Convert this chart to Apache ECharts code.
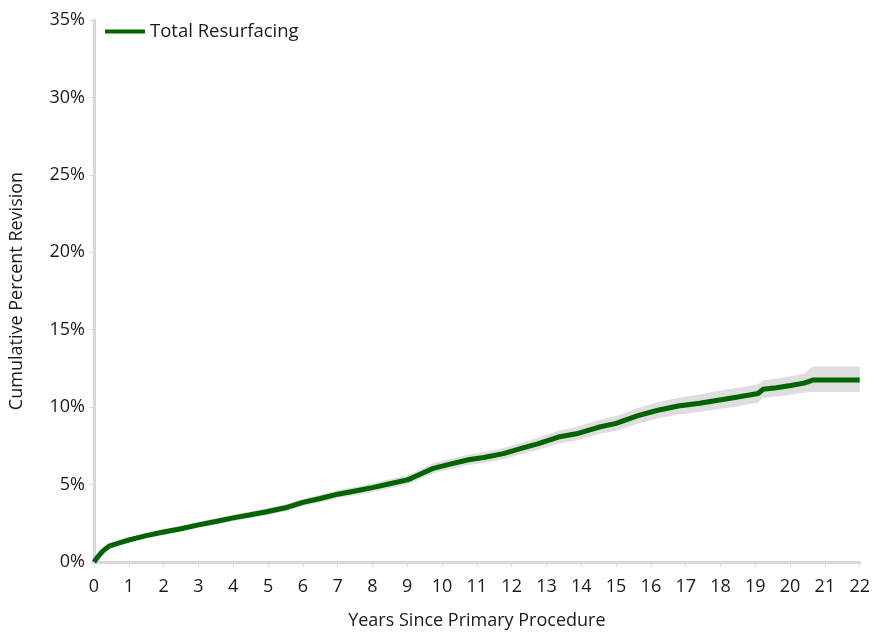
<!DOCTYPE html>
<html>
<head>
<meta charset="utf-8">
<script src="https://cdn.jsdelivr.net/npm/echarts@6/dist/echarts.min.js"></script>
<style>
html,body{margin:0;padding:0;background:#fff;}
#chart{width:873px;height:635px;}
</style>
</head>
<body>
<div id="chart"></div>
<script>
var seriesName = 'Total Resurfacing';
var years = [0, 0.1, 0.25, 0.43, 0.7, 1, 1.5, 2, 2.5, 3, 3.5, 4, 4.5, 5, 5.5, 6, 6.5, 7, 7.5, 8, 8.5, 9, 9.13, 9.4, 9.75, 10.2, 10.76, 11.2, 11.76, 12.3, 12.77, 13.34, 13.86, 14.49, 15, 15.63, 16.2, 16.78, 17.4, 17.93, 18.5, 19.08, 19.22, 19.6, 20.02, 20.4, 20.65, 22];
var cumulative = [0, 0.3, 0.7, 1.02, 1.22, 1.42, 1.7, 1.94, 2.15, 2.4, 2.62, 2.85, 3.05, 3.26, 3.5, 3.85, 4.1, 4.38, 4.58, 4.8, 5.05, 5.3, 5.42, 5.7, 6.05, 6.3, 6.6, 6.75, 7.0, 7.35, 7.64, 8.07, 8.28, 8.7, 8.95, 9.45, 9.8, 10.07, 10.25, 10.45, 10.65, 10.88, 11.15, 11.25, 11.4, 11.55, 11.75, 11.75];
var lowerCI = [0, 0.25, 0.6, 0.9, 1.09, 1.27, 1.54, 1.77, 1.97, 2.21, 2.42, 2.64, 2.84, 3.04, 3.27, 3.61, 3.85, 4.12, 4.31, 4.52, 4.76, 5.0, 5.12, 5.39, 5.73, 5.97, 6.26, 6.4, 6.64, 6.97, 7.25, 7.66, 7.85, 8.25, 8.48, 8.95, 9.28, 9.53, 9.68, 9.86, 10.04, 10.3, 10.6, 10.68, 10.8, 10.94, 10.98, 10.98];
var upperCI = [0, 0.35, 0.8, 1.14, 1.35, 1.57, 1.86, 2.11, 2.33, 2.59, 2.82, 3.06, 3.26, 3.48, 3.73, 4.09, 4.35, 4.64, 4.85, 5.08, 5.34, 5.6, 5.72, 6.01, 6.37, 6.63, 6.94, 7.1, 7.36, 7.73, 8.03, 8.48, 8.71, 9.15, 9.42, 9.95, 10.32, 10.61, 10.82, 11.04, 11.26, 11.46, 11.72, 11.84, 12.0, 12.16, 12.62, 12.62];
var yTicks = [0, 5, 10, 15, 20, 25, 30, 35];

var lineData = years.map(function(x, i){ return [x, cumulative[i]]; });

var chart = echarts.init(document.getElementById('chart'));
var fontFam = '"Open Sans", "Noto Sans", sans-serif';
var fs = 18;
chart.setOption({
  animation: false,
  textStyle: {fontFamily: fontFam},
  grid: {left: 93, right: 12, top: 20, bottom: 69},
  legend: {
    data: [seriesName],
    left: 100, top: 17,
    icon: 'rect', itemWidth: 40, itemHeight: 4,
    textStyle: {fontSize: 18.5, color: '#1a1a1a', fontFamily: fontFam}
  },
  xAxis: {
    type: 'value', min: 0, max: 22, interval: 1,
    name: 'Years Since Primary Procedure', nameLocation: 'middle', nameGap: 50,
    nameTextStyle: {fontSize: fs, color: '#1a1a1a'},
    axisLine: {show: true, onZero: false, lineStyle: {color: '#d9d9d9', width: 3}},
    axisTick: {show: true, length: 5, lineStyle: {color: '#d9d9d9', width: 1}},
    axisLabel: {fontSize: fs, color: '#1a1a1a', margin: 16},
    splitLine: {show: false}
  },
  yAxis: {
    type: 'value', min: yTicks[0], max: yTicks[yTicks.length - 1], interval: 5,
    name: 'Cumulative Percent Revision', nameLocation: 'middle', nameGap: 68,
    nameTextStyle: {fontSize: fs, color: '#1a1a1a'},
    axisLine: {show: true, lineStyle: {color: '#d9d9d9', width: 3}},
    axisTick: {show: true, length: 4, lineStyle: {color: '#d9d9d9', width: 1}},
    axisLabel: {fontSize: fs, color: '#1a1a1a', margin: 9, formatter: '{value}%'},
    splitLine: {show: false}
  },
  series: [
    {
      name: 'band', type: 'custom', silent: true, z: 1,
      data: [[0, 0]],
      renderItem: function(params, api){
        var pts = [];
        for (var i = 0; i < years.length; i++) pts.push(api.coord([years[i], upperCI[i]]));
        for (var j = years.length - 1; j >= 0; j--) pts.push(api.coord([years[j], lowerCI[j]]));
        return {type: 'polygon', shape: {points: pts}, style: {fill: '#dedede'}};
      }
    },
    {
      name: seriesName, type: 'line', data: lineData,
      symbol: 'none', showSymbol: false,
      lineStyle: {color: '#006400', width: 5},
      itemStyle: {color: '#006400'}, z: 3
    }
  ]
});
</script>
</body>
</html>
